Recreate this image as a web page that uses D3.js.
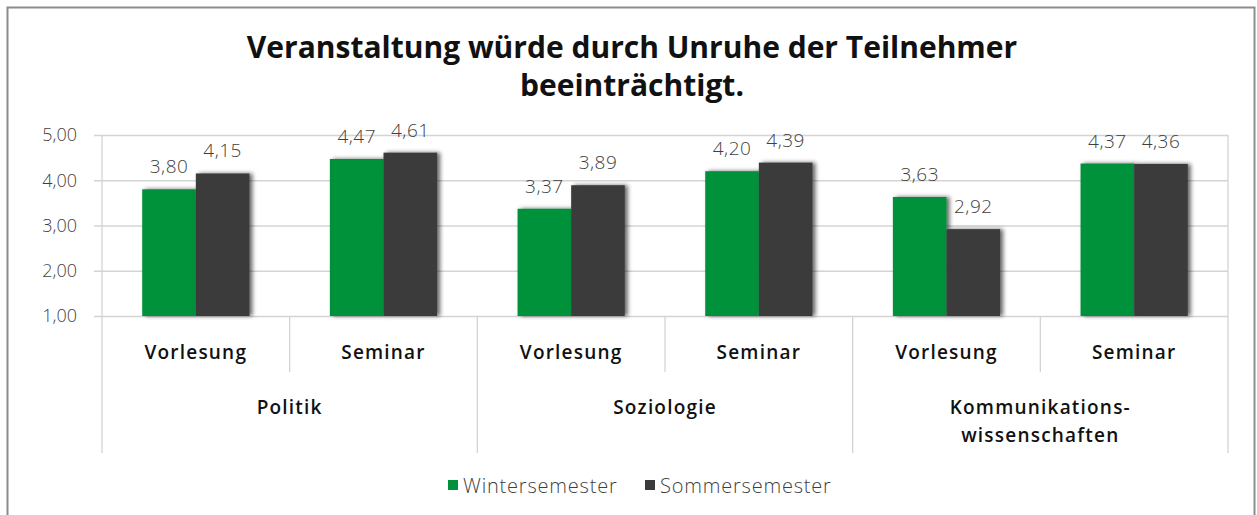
<!DOCTYPE html>
<html>
<head>
<meta charset="utf-8">
<script src="https://cdn.jsdelivr.net/npm/d3@7"></script>
<style>
  body { margin: 0; background: #fff; }
  svg { display: block; font-family: "Open Sans", sans-serif; }
</style>
</head>
<body>
<svg id="chart" width="1257" height="515"></svg>
<script>
// data
const groups = ['Politik', 'Soziologie', 'Kommunikations-\nwissenschaften']
const types = ['Vorlesung', 'Seminar']
const seriesNames = ['Wintersemester', 'Sommersemester']
const winter = [3.80, 4.47, 3.37, 4.20, 3.63, 4.37]
const sommer = [4.15, 4.61, 3.89, 4.39, 2.92, 4.36]
const yTicks = [1, 2, 3, 4, 5]
const colors = ['#00913a', '#3b3b3b']

const categories = []
groups.forEach((g, gi) => types.forEach(t => categories.push({group: gi, type: t})))
const values = [winter, sommer]

const svg = d3.select('#chart')
const margin = {left: 102, right: 1228, top: 135, bottom: 316}

// outer frame
svg.append('rect')
  .attr('x', 7.5).attr('y', 7.5).attr('width', 1247).attr('height', 520)
  .attr('fill', 'none').attr('stroke', '#8c8c8c').attr('stroke-width', 2)

const defs = svg.append('defs')
defs.append('filter').attr('id', 'shadow')
  .attr('x', '-20%').attr('y', '-20%').attr('width', '150%').attr('height', '140%')
  .append('feDropShadow')
  .attr('dx', 3).attr('dy', 0).attr('stdDeviation', 2)
  .attr('flood-color', '#000').attr('flood-opacity', 0.6)

const x = d3.scaleBand()
  .domain(d3.range(categories.length))
  .range([margin.left, margin.right])

const inner = d3.scaleBand()
  .domain(d3.range(seriesNames.length))
  .range([0, x.bandwidth()])
  .paddingInner(0).paddingOuter(0.75)

const y = d3.scaleLinear().domain([1, 5]).range([margin.bottom, margin.top])

const fmt = d3.formatLocale({decimal: ',', thousands: '.', grouping: [3], currency: ['', '€']}).format('.2f')

// gridlines + y axis
const yAxis = d3.axisLeft(y).tickValues(yTicks).tickFormat(fmt)
  .tickSize(-(margin.right - margin.left + 8)).tickPadding(17)
svg.append('g')
  .attr('transform', `translate(${margin.left - 8},0)`)
  .call(yAxis)
  .call(g => g.select('.domain').remove())
  .call(g => g.selectAll('.tick line').attr('stroke', '#d4d4d4').attr('stroke-width', 1.3))
  .call(g => g.selectAll('.tick text').attr('font-family', '"Open Sans", sans-serif')
    .attr('fill', '#3f3f3f').attr('font-size', 18).attr('font-weight', 300))

// plot frame left and right
svg.append('line')
  .attr('x1', margin.left).attr('x2', margin.left).attr('y1', margin.top).attr('y2', 453)
  .attr('stroke', '#d4d4d4').attr('stroke-width', 1.3)
svg.append('line')
  .attr('x1', margin.right).attr('x2', margin.right).attr('y1', margin.top).attr('y2', 453)
  .attr('stroke', '#d4d4d4').attr('stroke-width', 1.3)

// category separators
categories.forEach((c, i) => {
  if (i === 0) return
  const xx = x(i)
  svg.append('line')
    .attr('x1', xx).attr('x2', xx).attr('y1', margin.bottom)
    .attr('y2', i % 2 === 0 ? 453 : 372)
    .attr('stroke', '#d4d4d4').attr('stroke-width', 1.3)
})

// bars
categories.forEach((c, i) => {
  values.forEach((vals, s) => {
    const v = vals[i]
    svg.append('rect')
      .attr('x', x(i) + inner(s))
      .attr('y', y(v))
      .attr('width', inner.bandwidth())
      .attr('height', y(1) - y(v))
      .attr('fill', colors[s])
      .attr('filter', 'url(#shadow)')
  })
})

// value labels
categories.forEach((c, i) => {
  values.forEach((vals, s) => {
    const v = vals[i]
    svg.append('text')
      .attr('x', x(i) + inner(s) + inner.bandwidth() / 2)
      .attr('y', y(v) - 16)
      .attr('text-anchor', 'middle')
      .attr('font-size', 19).attr('font-weight', 300)
      .attr('letter-spacing', 0.5)
      .attr('fill', '#3f3f3f')
      .text(fmt(v))
  })
})

// category labels
categories.forEach((c, i) => {
  svg.append('text')
    .attr('x', x(i) + x.bandwidth() / 2)
    .attr('y', 359)
    .attr('text-anchor', 'middle')
    .attr('font-size', 19).attr('font-weight', 600)
    .attr('letter-spacing', 1.2)
    .attr('fill', '#111')
    .text(c.type)
})

groups.forEach((g, gi) => {
  const cx = x(gi * 2) + x.bandwidth()
  const lines = g.split('\n')
  const t = svg.append('text')
    .attr('text-anchor', 'middle')
    .attr('font-size', 19).attr('font-weight', 600)
    .attr('letter-spacing', 1.2)
    .attr('fill', '#111')
  lines.forEach((l, li) => {
    t.append('tspan').attr('x', cx).attr('y', 414 + li * 28).text(l)
  })
})

// title
const title = svg.append('text')
  .attr('text-anchor', 'middle')
  .attr('font-size', 30).attr('font-weight', 700)
  .attr('fill', '#111')
title.append('tspan').attr('x', 632).attr('y', 58).text('Veranstaltung würde durch Unruhe der Teilnehmer')
title.append('tspan').attr('x', 632).attr('y', 96).text('beeinträchtigt.')

// legend
const legendX = [448, 645]
seriesNames.forEach((n, s) => {
  svg.append('rect')
    .attr('x', legendX[s]).attr('y', 480).attr('width', 10).attr('height', 10)
    .attr('fill', colors[s])
  svg.append('text')
    .attr('x', legendX[s] + 15).attr('y', 493)
    .attr('font-size', 20).attr('font-weight', 300)
    .attr('letter-spacing', 0.8)
    .attr('fill', '#3f3f3f')
    .text(n)
})
</script>
</body>
</html>
